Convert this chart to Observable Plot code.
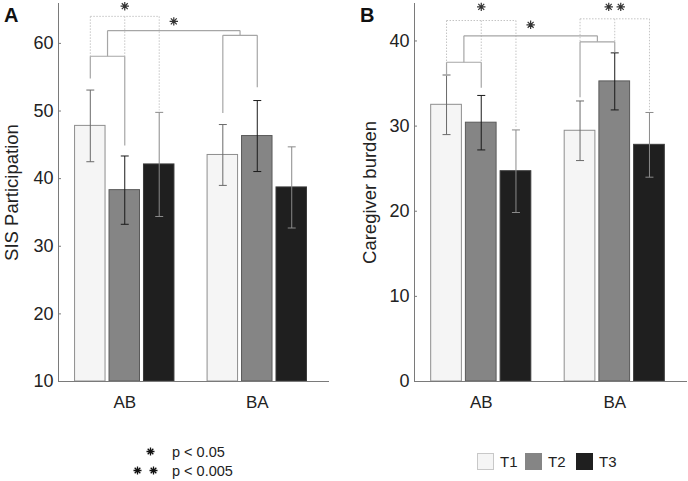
<!DOCTYPE html>
<html>
<head>
<meta charset="utf-8">
<script src="https://cdn.jsdelivr.net/npm/d3@7"></script>
<script src="https://cdn.jsdelivr.net/npm/@observablehq/plot@0.6"></script>
<style>
  body { margin: 0; background: #fff; }
  #wrap { position: relative; width: 688px; height: 481px; overflow: hidden; font-family: "Liberation Sans", Arial, sans-serif; color: #222; }
  #wrap > .pane { position: absolute; top: 0; }
  #overlay { position: absolute; left: 0; top: 0; pointer-events: none; }
</style>
</head>
<body>
<div id="wrap"></div>
<script>
// ---------- data ----------
const groups = ["AB", "BA"];
const series = ["T1", "T2", "T3"];

// SIS Participation (order: AB T1, AB T2, AB T3, BA T1, BA T2, BA T3)
const sisMean = [47.8, 38.3, 42.1, 43.5, 46.3, 38.7];
const sisErr  = [5.3, 5.05, 7.7, 4.5, 5.25, 6.0];
const sisTicks = [10, 20, 30, 40, 50, 60];

// Caregiver burden
const burdenMean = [32.5, 30.4, 24.7, 29.45, 35.25, 27.8];
const burdenErr  = [3.5, 3.2, 4.85, 3.5, 3.35, 3.8];
const burdenTicks = [0, 10, 20, 30, 40];

// significance annotations (values in data units)
const sisPairs = [{group: "AB", level: 64.0, legEnd: [58.1, 58.1, 50.1], starY: 65.5, stars: 1}];
const sisChange = [
  {group: "AB", level: 58.1, legEnd: [54.8, 44.9]},
  {group: "BA", level: 61.2, legEnd: [49.7, 53.5]}
];
const sisLink = {level: 61.9, starY: 63.25, stars: 1};

const burdenPairs = [
  {group: "AB", level: 42.4, legEnd: [37.5, 37.5, 29.8], starY: 44.0, stars: 1},
  {group: "BA", level: 42.6, legEnd: [39.9, 39.9, 31.8], starY: 44.0, stars: 2}
];
const burdenChange = [
  {group: "AB", level: 37.5, legEnd: [35.9, 34.5]},
  {group: "BA", level: 39.9, legEnd: [33.4, 38.66]}
];
const burdenLink = {level: 40.6, starY: 41.9, stars: 1};

const sigLegend = [{stars: 1, label: "p < 0.05"}, {stars: 2, label: "p < 0.005"}];

// ---------- styling ----------
const FONT = '"Liberation Sans", Arial, sans-serif';
const NARROW = '"Liberation Sans Narrow", "Arial Narrow", "Liberation Sans", Arial, sans-serif';
const fills   = ["#f5f5f5", "#858585", "#1f1f1f"];
const strokes = ["#8e8e8e", "#5a5a5a", "#3a3a3a"];
const errCols = ["#6a6a6a", "#1a1a1a", "#8a8a8a"];
const xDomain = [0.5, 2.545];
const off = [-0.26, 0, 0.26];
const bw = 0.23, cap = 0.03, starSep = 0.045;

const star8 = {
  draw(ctx, size) {
    const r = Math.sqrt(size / Math.PI);
    for (let k = 0; k < 4; k++) {
      const a = k * Math.PI / 4, dx = r * Math.cos(a), dy = r * Math.sin(a);
      ctx.moveTo(-dx, -dy); ctx.lineTo(dx, dy);
    }
  }
};

const xpos = (g, s) => groups.indexOf(g) + 1 + off[series.indexOf(s)];

function starPoints(x, y, n) {
  if (n === 1) return [{x, y}];
  return [{x: x - starSep, y}, {x: x + starSep, y}];
}

function panel({mean, err, yDomain, yTicks, pairs, change, link, title, width, marginLeft, marginRight, titleDx}) {
  const base = yDomain[0];
  const rows = groups.flatMap((g, gi) => series.map((s, si) => ({
    g, s, si, x: gi + 1 + off[si], mean: mean[gi * 3 + si], err: err[gi * 3 + si]
  })));

  const dotted = pairs.flatMap(p => [
    {x1: xpos(p.group, "T1"), x2: xpos(p.group, "T3"), y1: p.level, y2: p.level},
    ...series.map((s, i) => ({x1: xpos(p.group, s), x2: xpos(p.group, s), y1: p.level, y2: p.legEnd[i]}))
  ]);
  const solid = change.flatMap(c => [
    {x1: xpos(c.group, "T1"), x2: xpos(c.group, "T2"), y1: c.level, y2: c.level},
    {x1: xpos(c.group, "T1"), x2: xpos(c.group, "T1"), y1: c.level, y2: c.legEnd[0]},
    {x1: xpos(c.group, "T2"), x2: xpos(c.group, "T2"), y1: c.level, y2: c.legEnd[1]}
  ]);
  const mA = (xpos(change[0].group, "T1") + xpos(change[0].group, "T2")) / 2;
  const mB = (xpos(change[1].group, "T1") + xpos(change[1].group, "T2")) / 2;
  solid.push(
    {x1: mA, x2: mA, y1: change[0].level, y2: link.level},
    {x1: mA, x2: mB, y1: link.level, y2: link.level},
    {x1: mB, x2: mB, y1: link.level, y2: change[1].level}
  );
  const stars = [
    ...pairs.flatMap(p => starPoints(xpos(p.group, "T2"), p.starY, p.stars)),
    ...starPoints((mA + mB) / 2, link.starY, link.stars)
  ];

  const marks = [];
  series.forEach((s, si) => {
    const r = rows.filter(d => d.si === si);
    marks.push(Plot.rectY(r, {x1: d => d.x - bw / 2, x2: d => d.x + bw / 2, y1: base, y2: "mean",
      fill: fills[si], stroke: strokes[si], strokeWidth: 1}));
  });
  series.forEach((s, si) => {
    const r = rows.filter(d => d.si === si);
    marks.push(Plot.link(r, {x1: "x", x2: "x", y1: d => d.mean - d.err, y2: d => d.mean + d.err, stroke: errCols[si], strokeWidth: 1}));
    marks.push(Plot.link(r, {x1: d => d.x - cap, x2: d => d.x + cap, y1: d => d.mean + d.err, y2: d => d.mean + d.err, stroke: errCols[si], strokeWidth: 1}));
    marks.push(Plot.link(r, {x1: d => d.x - cap, x2: d => d.x + cap, y1: d => d.mean - d.err, y2: d => d.mean - d.err, stroke: errCols[si], strokeWidth: 1}));
  });
  marks.push(Plot.link(dotted, {x1: "x1", x2: "x2", y1: "y1", y2: "y2", stroke: "#c4c4c4", strokeWidth: 1, strokeDasharray: "1.5,1.5"}));
  marks.push(Plot.link(solid, {x1: "x1", x2: "x2", y1: "y1", y2: "y2", stroke: "#a6a6a6", strokeWidth: 1.2}));
  marks.push(Plot.dot(stars, {x: "x", y: "y", symbol: star8, r: 4.2, fill: "none", stroke: "#333", strokeWidth: 1.2}));
  marks.push(Plot.ruleX([xDomain[0]], {stroke: "#7a7a7a"}));
  marks.push(Plot.ruleY([base], {stroke: "#7a7a7a"}));
  marks.push(Plot.axisY({ticks: yTicks, tickSize: -3, tickPadding: 8, stroke: "#7a7a7a", fill: "#222", fontSize: 18, fontFamily: NARROW, label: null}));
  marks.push(Plot.axisX({ticks: [1, 2], tickFormat: d => groups[d - 1], tickSize: 0, tickPadding: 14, fill: "#222", fontSize: 17, fontFamily: NARROW, label: null}));
  marks.push(Plot.text([title], {text: d => d, frameAnchor: "left", rotate: -90, dx: titleDx, fontSize: 18.5, fill: "#222", lineAnchor: "middle", textAnchor: "middle"}));

  return Plot.plot({
    width, height: 420,
    marginTop: 3, marginBottom: 39, marginLeft, marginRight,
    x: {type: "linear", domain: xDomain},
    y: {domain: yDomain},
    style: {fontFamily: FONT, fontSize: "17px", color: "#222", background: "transparent", overflow: "visible"},
    marks
  });
}

const wrap = document.getElementById("wrap");

const pA = panel({mean: sisMean, err: sisErr, yDomain: [10, 65.9], yTicks: sisTicks,
  pairs: sisPairs, change: sisChange, link: sisLink, title: "SIS Participation",
  width: 340, marginLeft: 58, marginRight: 11, titleDx: -46});
pA.classList.add("pane"); pA.style.left = "0px";
wrap.appendChild(pA);

const pB = panel({mean: burdenMean, err: burdenErr, yDomain: [0, 44.4], yTicks: burdenTicks,
  pairs: burdenPairs, change: burdenChange, link: burdenLink, title: "Caregiver burden",
  width: 348, marginLeft: 74, marginRight: 1, titleDx: -44});
pB.classList.add("pane"); pB.style.left = "340px";
wrap.appendChild(pB);

// ---------- overlay: panel letters and legends ----------
const NS = "http://www.w3.org/2000/svg";
const ov = document.createElementNS(NS, "svg");
ov.setAttribute("id", "overlay");
ov.setAttribute("width", 688); ov.setAttribute("height", 481);
function el(tag, attrs, text) {
  const e = document.createElementNS(NS, tag);
  for (const k in attrs) e.setAttribute(k, attrs[k]);
  if (text != null) e.textContent = text;
  ov.appendChild(e);
  return e;
}
function starPath(cx, cy, r) {
  let d = "";
  for (let k = 0; k < 4; k++) {
    const a = k * Math.PI / 4, dx = r * Math.cos(a), dy = r * Math.sin(a);
    d += `M${cx - dx},${cy - dy}L${cx + dx},${cy + dy}`;
  }
  return d;
}
el("text", {x: 4, y: 22, "font-family": FONT, "font-size": 20, "font-weight": "bold", fill: "#111"}, "A");
el("text", {x: 360, y: 22, "font-family": FONT, "font-size": 20, "font-weight": "bold", fill: "#111"}, "B");

// significance legend
sigLegend.forEach((d, i) => {
  const cy = 451.5 + i * 19;
  const xs = d.stars === 1 ? [150.5] : [137.5, 153.5];
  xs.forEach(cx => el("path", {d: starPath(cx, cy, 4), stroke: "#111", "stroke-width": 1.3, fill: "none"}));
  el("text", {x: 172, y: cy + 5, "font-family": NARROW, "font-size": 14.5, fill: "#222"}, d.label);
});

// T1/T2/T3 legend
const legX = [477, 525, 576];
series.forEach((s, i) => {
  el("rect", {x: legX[i] + 0.5, y: 453.5, width: 16, height: 16, fill: fills[i], stroke: i === 0 ? "#c8c8c8" : fills[i], "stroke-width": 1});
  el("text", {x: legX[i] + 23, y: 467, "font-family": NARROW, "font-size": 15, fill: "#222"}, s);
});
wrap.appendChild(ov);
</script>
</body>
</html>
